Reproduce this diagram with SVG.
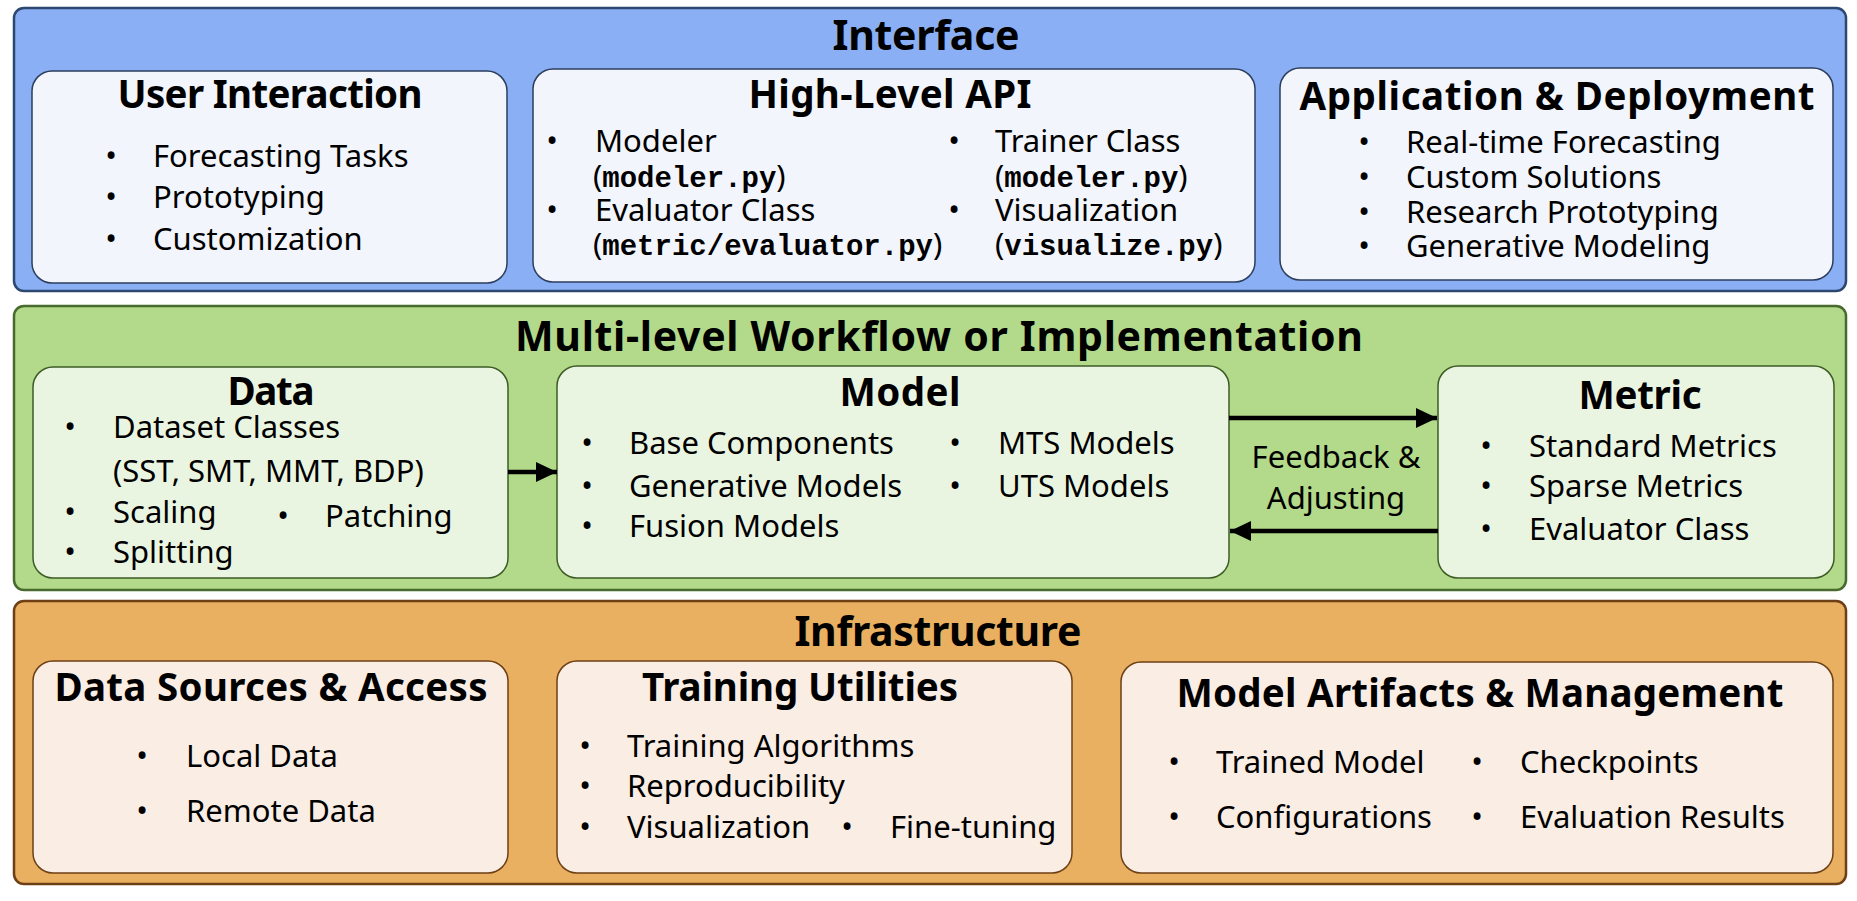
<svg xmlns="http://www.w3.org/2000/svg" width="1857" height="901" viewBox="0 0 1857 901">
<style>
text{font-family:"Noto Sans","Open Sans",sans-serif;fill:#000}
.pt{font-weight:bold;font-size:41px;text-anchor:middle}
.bt{font-weight:bold;font-size:38.5px;text-anchor:middle}
.it{font-size:31px}
.bu{font-size:31px;text-anchor:middle}
.mo{font-family:"Liberation Mono","DejaVu Sans Mono",monospace;font-weight:bold;font-size:29px}
.p1{fill:#8aaff4;stroke:#2c4770;stroke-width:2.5}
.b1{fill:#f2f5fb;stroke:#2c3e5e;stroke-width:1.5}
.p2{fill:#b3d98a;stroke:#476b2c;stroke-width:2.5}
.b2{fill:#eaf5e1;stroke:#3c5c26;stroke-width:1.5}
.p3{fill:#e8b060;stroke:#6e3f14;stroke-width:2.5}
.b3{fill:#f9ede4;stroke:#6e3f14;stroke-width:1.5}
.ar{stroke:#000;stroke-width:4.5;fill:none}
</style>
<defs>
<marker id="ah" markerUnits="userSpaceOnUse" markerWidth="22" markerHeight="22" refX="21" refY="10" orient="auto">
<polygon points="0,0 21,10 0,20" fill="#000"/>
</marker>
</defs>

<g id="interface">
<rect class="p1" x="14" y="8" width="1832" height="283" rx="10"/>
<text class="pt" x="926" y="50" textLength="187">Interface</text>
</g>
<g id="user-interaction">
<rect class="b1" x="32" y="71" width="475" height="212" rx="20"/>
<text class="bt" x="270" y="108" textLength="305">User Interaction</text>
<text class="bu" x="111" y="167">•</text><text class="it" x="153" y="167">Forecasting Tasks</text>
<text class="bu" x="111" y="208">•</text><text class="it" x="153" y="208">Prototyping</text>
<text class="bu" x="111" y="250">•</text><text class="it" x="153" y="250">Customization</text>
</g>
<g id="high-level-api">
<rect class="b1" x="533" y="69" width="722" height="213" rx="20"/>
<text class="bt" x="890" y="108" textLength="283">High-Level API</text>
<text class="bu" x="552" y="152">•</text><text class="it" x="595" y="152">Modeler</text>
<text class="it" x="593" y="187">(<tspan class="mo">modeler.py</tspan>)</text>
<text class="bu" x="552" y="221">•</text><text class="it" x="595" y="221">Evaluator Class</text>
<text class="it" x="593" y="255">(<tspan class="mo">metric/evaluator.py</tspan>)</text>
<text class="bu" x="954" y="152">•</text><text class="it" x="995" y="152">Trainer Class</text>
<text class="it" x="995" y="187">(<tspan class="mo">modeler.py</tspan>)</text>
<text class="bu" x="954" y="221">•</text><text class="it" x="995" y="221">Visualization</text>
<text class="it" x="995" y="255">(<tspan class="mo">visualize.py</tspan>)</text>
</g>
<g id="application-deployment">
<rect class="b1" x="1280" y="68" width="553" height="212" rx="20"/>
<text class="bt" x="1557" y="110" textLength="515">Application &amp; Deployment</text>
<text class="bu" x="1364" y="153">•</text><text class="it" x="1406" y="153">Real-time Forecasting</text>
<text class="bu" x="1364" y="188">•</text><text class="it" x="1406" y="188">Custom Solutions</text>
<text class="bu" x="1364" y="223">•</text><text class="it" x="1406" y="223">Research Prototyping</text>
<text class="bu" x="1364" y="257">•</text><text class="it" x="1406" y="257">Generative Modeling</text>
</g>

<g id="workflow">
<rect class="p2" x="14" y="306" width="1832" height="284" rx="10"/>
<text class="pt" x="939" y="351" textLength="848">Multi-level Workflow or Implementation</text>
</g>
<g id="data">
<rect class="b2" x="33" y="367" width="475" height="211" rx="20"/>
<text class="bt" x="271" y="405" textLength="87">Data</text>
<text class="bu" x="70" y="438">•</text><text class="it" x="113" y="438">Dataset Classes</text>
<text class="it" x="113" y="482">(SST, SMT, MMT, BDP)</text>
<text class="bu" x="70" y="523">•</text><text class="it" x="113" y="523">Scaling</text>
<text class="bu" x="283" y="527">•</text><text class="it" x="325" y="527">Patching</text>
<text class="bu" x="70" y="563">•</text><text class="it" x="113" y="563">Splitting</text>
</g>
<g id="model">
<rect class="b2" x="557" y="366" width="672" height="212" rx="20"/>
<text class="bt" x="900" y="406" textLength="121">Model</text>
<text class="bu" x="587" y="454">•</text><text class="it" x="629" y="454">Base Components</text>
<text class="bu" x="587" y="497">•</text><text class="it" x="629" y="497">Generative Models</text>
<text class="bu" x="587" y="537">•</text><text class="it" x="629" y="537">Fusion Models</text>
<text class="bu" x="955" y="454">•</text><text class="it" x="998" y="454">MTS Models</text>
<text class="bu" x="955" y="497">•</text><text class="it" x="998" y="497">UTS Models</text>
</g>
<g id="metric">
<rect class="b2" x="1438" y="366" width="396" height="212" rx="20"/>
<text class="bt" x="1640" y="409" textLength="123">Metric</text>
<text class="bu" x="1486" y="457">•</text><text class="it" x="1529" y="457">Standard Metrics</text>
<text class="bu" x="1486" y="497">•</text><text class="it" x="1529" y="497">Sparse Metrics</text>
<text class="bu" x="1486" y="540">•</text><text class="it" x="1529" y="540">Evaluator Class</text>
</g>

<g id="infrastructure">
<rect class="p3" x="14" y="601" width="1832" height="283" rx="10"/>
<text class="pt" x="938" y="646" textLength="287">Infrastructure</text>
</g>
<g id="data-sources">
<rect class="b3" x="33" y="661" width="475" height="212" rx="20"/>
<text class="bt" x="271" y="701" textLength="433">Data Sources &amp; Access</text>
<text class="bu" x="142" y="767">•</text><text class="it" x="186" y="767">Local Data</text>
<text class="bu" x="142" y="822">•</text><text class="it" x="186" y="822">Remote Data</text>
</g>
<g id="training-utilities">
<rect class="b3" x="557" y="661" width="515" height="212" rx="20"/>
<text class="bt" x="800" y="701" textLength="316">Training Utilities</text>
<text class="bu" x="585" y="757">•</text><text class="it" x="627" y="757">Training Algorithms</text>
<text class="bu" x="585" y="797">•</text><text class="it" x="627" y="797">Reproducibility</text>
<text class="bu" x="585" y="838">•</text><text class="it" x="627" y="838">Visualization</text>
<text class="bu" x="847" y="838">•</text><text class="it" x="890" y="838">Fine-tuning</text>
</g>
<g id="model-artifacts">
<rect class="b3" x="1121" y="662" width="712" height="211" rx="20"/>
<text class="bt" x="1480" y="707" textLength="607">Model Artifacts &amp; Management</text>
<text class="bu" x="1174" y="773">•</text><text class="it" x="1216" y="773">Trained Model</text>
<text class="bu" x="1477" y="773">•</text><text class="it" x="1520" y="773">Checkpoints</text>
<text class="bu" x="1174" y="828">•</text><text class="it" x="1216" y="828">Configurations</text>
<text class="bu" x="1477" y="828">•</text><text class="it" x="1520" y="828">Evaluation Results</text>
</g>

<g id="connectors">
<line class="ar" x1="508" y1="472" x2="557" y2="472" marker-end="url(#ah)"/>
<line class="ar" x1="1229" y1="418" x2="1437" y2="418" marker-end="url(#ah)"/>
<line class="ar" x1="1438" y1="531" x2="1230" y2="531" marker-end="url(#ah)"/>
<text class="it" x="1336" y="468" text-anchor="middle">Feedback &amp;</text>
<text class="it" x="1336" y="509" text-anchor="middle">Adjusting</text>
</g>
</svg>
